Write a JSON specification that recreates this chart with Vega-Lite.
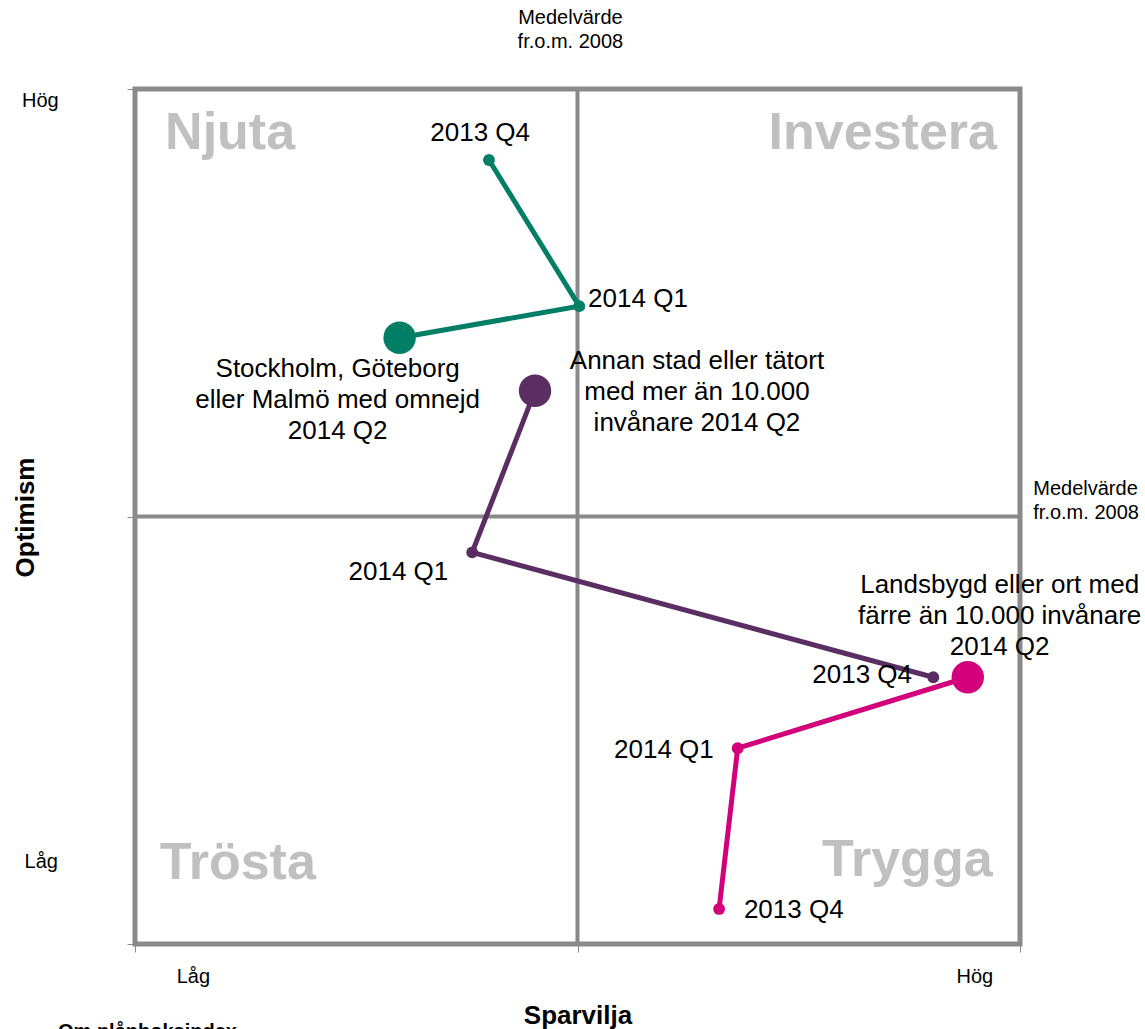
{
  "$schema": "https://vega.github.io/schema/vega-lite/v6.json",
  "autosize": "none",
  "width": 885,
  "height": 855,
  "padding": {"left": 135, "top": 89, "right": 125, "bottom": 85},
  "background": "white",
  "config": {"view": {"stroke": null}, "font": "Liberation Sans"},
  "datasets": {
    "series": [
      {"serie": "Stockholm", "period": "2013 Q4", "seq": 1, "sparvilja": 4.00, "optimism": 9.17},
      {"serie": "Stockholm", "period": "2014 Q1", "seq": 2, "sparvilja": 5.02, "optimism": 7.46},
      {"serie": "Stockholm", "period": "2014 Q2", "seq": 3, "sparvilja": 2.99, "optimism": 7.09},
      {"serie": "Annan stad", "period": "2013 Q4", "seq": 1, "sparvilja": 9.02, "optimism": 3.12},
      {"serie": "Annan stad", "period": "2014 Q1", "seq": 2, "sparvilja": 3.81, "optimism": 4.58},
      {"serie": "Annan stad", "period": "2014 Q2", "seq": 3, "sparvilja": 4.52, "optimism": 6.47},
      {"serie": "Landsbygd", "period": "2013 Q4", "seq": 1, "sparvilja": 6.60, "optimism": 0.41},
      {"serie": "Landsbygd", "period": "2014 Q1", "seq": 2, "sparvilja": 6.81, "optimism": 2.29},
      {"serie": "Landsbygd", "period": "2014 Q2", "seq": 3, "sparvilja": 9.41, "optimism": 3.12}
    ],
    "labelsLeft": [
      {"x": 5.12, "y": 7.54, "t": "2014 Q1"},
      {"x": 6.88, "y": 0.40, "t": "2013 Q4"}
    ],
    "labelsRight": [
      {"x": 8.78, "y": 3.15, "t": "2013 Q4"},
      {"x": 3.54, "y": 4.35, "t": "2014 Q1"},
      {"x": 6.54, "y": 2.27, "t": "2014 Q1"}
    ],
    "labelsCenter": [
      {"x": 3.90, "y": 9.49, "t": "2013 Q4"},
      {"x": 2.29, "y": 6.72, "t": "Stockholm, Göteborg\neller Malmö med omnejd\n2014 Q2"},
      {"x": 6.35, "y": 6.82, "t": "Annan stad eller tätort\nmed mer än 10.000\ninvånare 2014 Q2"},
      {"x": 9.77, "y": 4.20, "t": "Landsbygd eller ort med\nfärre än 10.000 invånare\n2014 Q2"}
    ],
    "quadLeft": [
      {"x": 0.34, "y": 9.49, "t": "Njuta"},
      {"x": 0.28, "y": 0.95, "t": "Trösta"}
    ],
    "quadRight": [
      {"x": 9.74, "y": 9.49, "t": "Investera"},
      {"x": 9.69, "y": 0.98, "t": "Trygga"}
    ],
    "axisCenter": [
      {"x": 4.92, "y": 10.83, "t": "Medelvärde\nfr.o.m. 2008"},
      {"x": -1.07, "y": 9.86, "t": "Hög"},
      {"x": -1.06, "y": 0.96, "t": "Låg"},
      {"x": 0.66, "y": -0.39, "t": "Låg"},
      {"x": 9.49, "y": -0.39, "t": "Hög"}
    ],
    "axisLeft": [
      {"x": 10.15, "y": 5.32, "t": "Medelvärde\nfr.o.m. 2008"}
    ],
    "footer": [
      {"x": -0.87, "y": -0.91, "t": "Om plånboksindex"}
    ],
    "frame": [{"x0": 0, "x1": 10, "y0": 0, "y1": 10}],
    "mid": [{"m": 5}]
  },
  "encoding": {
    "x": {"type": "quantitative", "scale": {"domain": [0, 10], "nice": false, "zero": false}},
    "y": {"type": "quantitative", "scale": {"domain": [0, 10], "nice": false, "zero": false}}
  },
  "layer": [
    {
      "data": {"name": "frame"},
      "mark": {"type": "rect", "fill": null, "stroke": "#8a8a8a", "strokeWidth": 5},
      "encoding": {
        "x": {"field": "x0", "type": "quantitative",
          "axis": {"values": [0, 5, 10], "labels": false, "domain": false, "grid": false, "ticks": true, "tickSize": 8, "tickColor": "#8a8a8a", "tickWidth": 1,
            "title": "Sparvilja", "titleFontSize": 26, "titleFontWeight": "bold", "titleColor": "#000", "titleFont": "Liberation Sans", "titleY": 71, "titleBaseline": "middle"}},
        "x2": {"field": "x1"},
        "y": {"field": "y0", "type": "quantitative",
          "axis": {"values": [0, 5, 10], "labels": false, "domain": false, "grid": false, "ticks": true, "tickSize": 8, "tickColor": "#8a8a8a", "tickWidth": 1,
            "title": "Optimism", "titleFontSize": 26, "titleFontWeight": "bold", "titleColor": "#000", "titleFont": "Liberation Sans", "titleX": -110, "titleY": 428, "titleAngle": -90, "titleBaseline": "middle"}},
        "y2": {"field": "y1"}
      }
    },
    {
      "data": {"name": "mid"},
      "mark": {"type": "rule", "stroke": "#8a8a8a", "strokeWidth": 4},
      "encoding": {"x": {"field": "m", "type": "quantitative"}}
    },
    {
      "data": {"name": "mid"},
      "mark": {"type": "rule", "stroke": "#8a8a8a", "strokeWidth": 4},
      "encoding": {"y": {"field": "m", "type": "quantitative"}}
    },
    {
      "data": {"name": "series"},
      "mark": {"type": "line", "strokeWidth": 5},
      "encoding": {
        "x": {"field": "sparvilja", "type": "quantitative"},
        "y": {"field": "optimism", "type": "quantitative"},
        "detail": {"field": "serie"},
        "order": {"field": "seq", "type": "quantitative"},
        "color": {"field": "serie", "type": "nominal", "legend": null,
          "scale": {"domain": ["Stockholm", "Annan stad", "Landsbygd"], "range": ["#007F66", "#5A2E62", "#D2007A"]}}
      }
    },
    {
      "data": {"name": "series"},
      "mark": {"type": "circle", "opacity": 1},
      "encoding": {
        "x": {"field": "sparvilja", "type": "quantitative"},
        "y": {"field": "optimism", "type": "quantitative"},
        "color": {"field": "serie", "type": "nominal", "legend": null},
        "size": {"field": "period", "type": "nominal", "legend": null,
          "scale": {"type": "ordinal", "domain": ["2013 Q4", "2014 Q1", "2014 Q2"], "range": [140, 140, 1050]}}
      }
    },
    {
      "data": {"name": "labelsLeft"},
      "mark": {"type": "text", "align": "left", "baseline": "middle", "fontSize": 26, "color": "#000"},
      "encoding": {"x": {"field": "x", "type": "quantitative"}, "y": {"field": "y", "type": "quantitative"}, "text": {"field": "t"}}
    },
    {
      "data": {"name": "labelsRight"},
      "mark": {"type": "text", "align": "right", "baseline": "middle", "fontSize": 26, "color": "#000"},
      "encoding": {"x": {"field": "x", "type": "quantitative"}, "y": {"field": "y", "type": "quantitative"}, "text": {"field": "t"}}
    },
    {
      "data": {"name": "labelsCenter"},
      "mark": {"type": "text", "align": "center", "baseline": "middle", "fontSize": 26, "lineHeight": 31, "lineBreak": "\n", "color": "#000"},
      "encoding": {"x": {"field": "x", "type": "quantitative"}, "y": {"field": "y", "type": "quantitative"}, "text": {"field": "t"}}
    },
    {
      "data": {"name": "quadLeft"},
      "mark": {"type": "text", "align": "left", "baseline": "middle", "fontSize": 52, "fontWeight": "bold", "color": "#C0C0C0"},
      "encoding": {"x": {"field": "x", "type": "quantitative"}, "y": {"field": "y", "type": "quantitative"}, "text": {"field": "t"}}
    },
    {
      "data": {"name": "quadRight"},
      "mark": {"type": "text", "align": "right", "baseline": "middle", "fontSize": 52, "fontWeight": "bold", "color": "#C0C0C0"},
      "encoding": {"x": {"field": "x", "type": "quantitative"}, "y": {"field": "y", "type": "quantitative"}, "text": {"field": "t"}}
    },
    {
      "data": {"name": "axisCenter"},
      "mark": {"type": "text", "align": "center", "baseline": "middle", "fontSize": 20, "lineHeight": 24, "lineBreak": "\n", "color": "#000"},
      "encoding": {"x": {"field": "x", "type": "quantitative"}, "y": {"field": "y", "type": "quantitative"}, "text": {"field": "t"}}
    },
    {
      "data": {"name": "axisLeft"},
      "mark": {"type": "text", "align": "left", "baseline": "middle", "fontSize": 20, "lineHeight": 24, "lineBreak": "\n", "color": "#000"},
      "encoding": {"x": {"field": "x", "type": "quantitative"}, "y": {"field": "y", "type": "quantitative"}, "text": {"field": "t"}}
    },
    {
      "data": {"name": "footer"},
      "mark": {"type": "text", "align": "left", "baseline": "top", "fontSize": 20, "fontWeight": "bold", "color": "#000"},
      "encoding": {"x": {"field": "x", "type": "quantitative"}, "y": {"field": "y", "type": "quantitative"}, "text": {"field": "t"}}
    }
  ]
}
